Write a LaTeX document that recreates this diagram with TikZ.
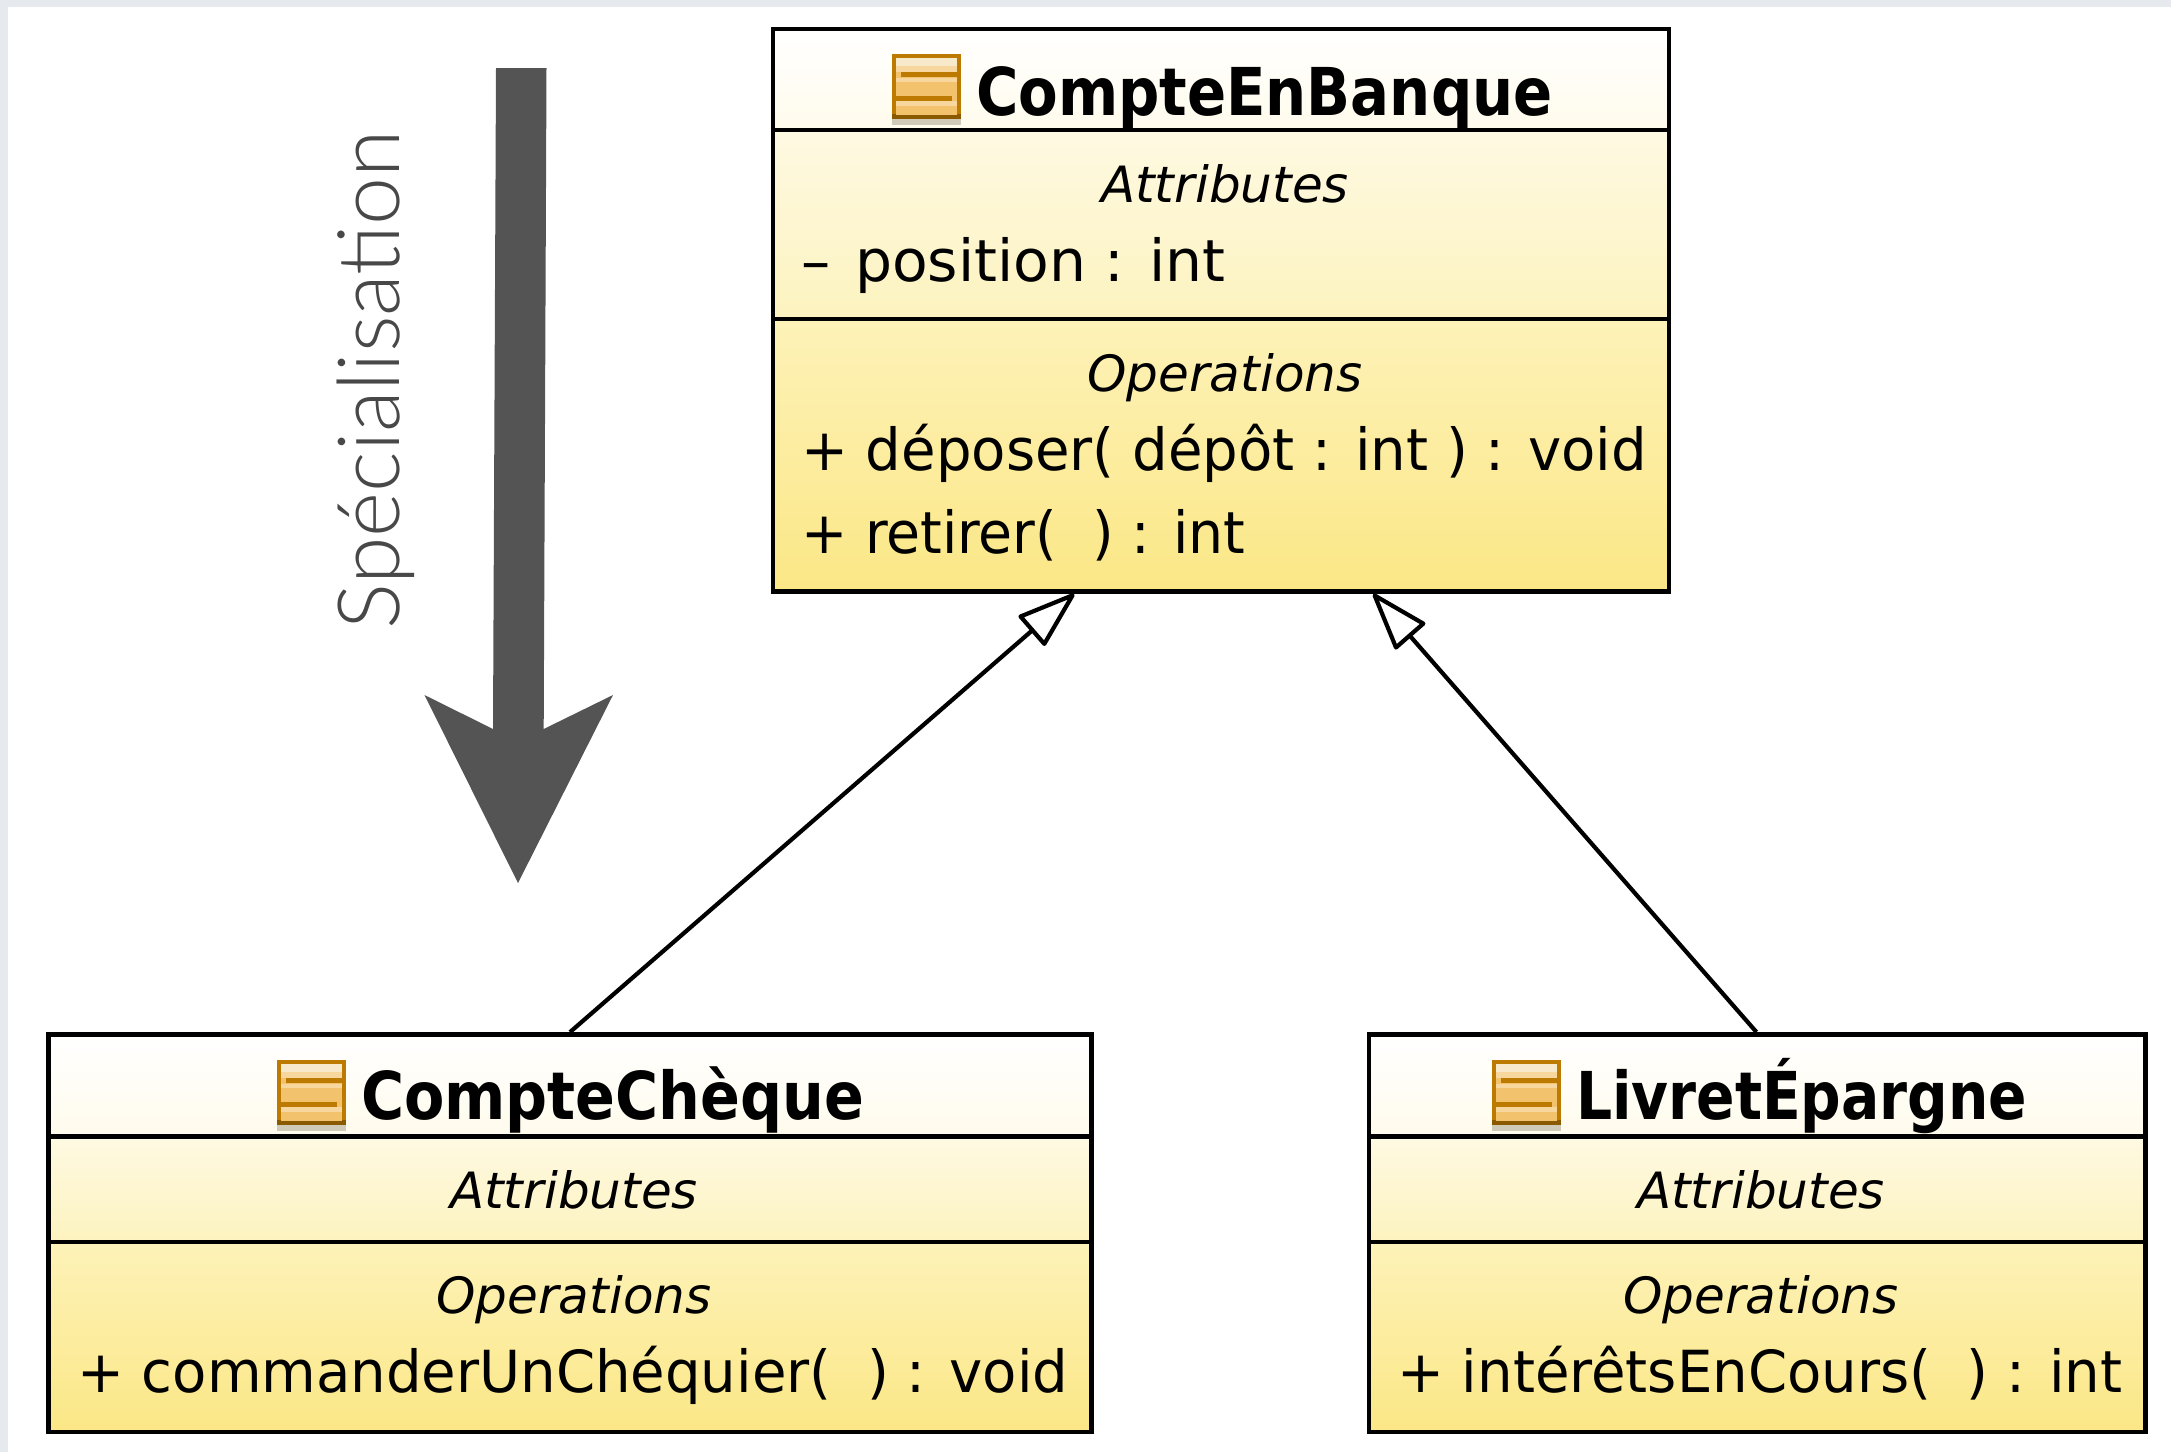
\documentclass[tikz,border=0pt]{standalone}
\usepackage{fontspec}
\usepackage{graphicx}
\usetikzlibrary{arrows.meta,calc}
\setmainfont{DejaVu Sans Condensed}
\newfontfamily\thinfont{Lato Light}
\newfontfamily\sectionfont{DejaVu Sans}
\newfontfamily\memberfont[FakeStretch=1.075]{DejaVu Sans Condensed}
\definecolor{band}{HTML}{E6E9EE}
\definecolor{arrowgrey}{HTML}{545454}
\definecolor{textgrey}{HTML}{484848}
\definecolor{iconfill}{HTML}{F2C26C}
\definecolor{icontop}{HTML}{BC7A00}
\definecolor{iconbot}{HTML}{8B5A00}
\definecolor{iconlite}{HTML}{F9E9CB}
\definecolor{iconstrip}{HTML}{F7D79E}
\definecolor{iconshadow}{HTML}{CFCBB8}
\definecolor{titletop}{HTML}{FFFFFF}
\definecolor{titlebot}{HTML}{FFFBEC}
\definecolor{attrtop}{HTML}{FEF9E2}
\definecolor{attrbot}{HTML}{FDF3BF}
\definecolor{opstop}{HTML}{FDF2B8}
\definecolor{opsbot}{HTML}{FBE786}
\tikzset{
  x=1pt,y=-1pt,
  part/.style={draw=black,line width=4.8pt,inner sep=0pt,anchor=center},
  titlepart/.style={part,top color=titletop,bottom color=titlebot},
  attrpart/.style={part,top color=attrtop,bottom color=attrbot},
  opspart/.style={part,top color=opstop,bottom color=opsbot},
  classname/.style={anchor=base west,inner sep=0pt,font=\fontsize{66}{66}\selectfont\bfseries},
  section/.style={anchor=base,inner sep=0pt,font=\fontsize{50}{50}\sectionfont\itshape},
  member/.style={anchor=base west,inner sep=0pt,font=\fontsize{58}{58}\memberfont},
  inherit/.style={draw=black,line width=4.2pt,-{Triangle[open,length=62pt,width=41pt,round]}},
  icon/.pic={
    \fill[iconshadow] (0,60) rectangle (68.5,71);
    \fill[iconbot] (0,30) rectangle (68.5,65);
    \fill[icontop] (0,0) rectangle (68.5,60);
    \fill[iconfill] (4,4) rectangle (64.5,61);
    \fill[iconlite] (4,4) rectangle (64.5,12);
    \fill[iconstrip] (4,12) rectangle (64.5,18);
    \fill[iconstrip] (4,24) rectangle (64.5,28);
    \fill[iconstrip] (4,47) rectangle (64.5,52);
    \fill[icontop] (9,18) rectangle (64.5,23);
    \fill[icontop] (4,42) rectangle (60,47);
  }
}
\begin{document}
\begin{tikzpicture}
\useasboundingbox (0,0) rectangle (2171,1452);
\fill[band] (0,0) rectangle (2171,7);
\fill[band] (0,0) rectangle (8,1452);
% Specialisation arrow
\fill[arrowgrey] (496,68) -- (546.5,68) -- (543.7,729) -- (613,695) -- (518,883) -- (424.5,695) -- (493,729) -- cycle;
\node[anchor=base,rotate=90,inner sep=0pt,text=textgrey,font=\fontsize{86}{86}\thinfont] (spec) at (399,380) {Spécialisation};
% CompteEnBanque
\node[titlepart,minimum width=896pt,minimum height=101pt] (bankT) at (1221,79.5) {};
\node[attrpart,minimum width=896pt,minimum height=189pt] (bankA) at (1221,224.5) {};
\node[opspart,minimum width=896pt,minimum height=272.5pt] (bankO) at (1221,455.25) {};
\pic at (892,54) {icon};
\node[classname] (bankN) at (976,115) {\scalebox{.972}[1]{CompteEnBanque}};
\node[section] (bankAt) at (1225,202) {Attributes};
\node[member] (bankP) at (801,281) {\scalebox{1.04}[1]{– \hspace{6pt}position : int}};
\node[section] (bankOp) at (1225,391) {Operations};
\node[member] (bankD) at (801,470) {+ déposer( dépôt : int ) : void};
\node[member] (bankR) at (801,553) {\scalebox{.985}[1]{+ retirer(~~) : int}};
% CompteCheque
\node[titlepart,minimum width=1043pt,minimum height=102pt] (chkT) at (570,1085.5) {};
\node[attrpart,minimum width=1043pt,minimum height=105pt] (chkA) at (570,1189.5) {};
\node[opspart,minimum width=1043pt,minimum height=190pt] (chkO) at (570,1337) {};
\pic at (277,1060) {icon};
\node[classname] (chkN) at (361,1119) {\scalebox{.989}[1]{CompteChèque}};
\node[section] (chkAt) at (574,1208) {Attributes};
\node[section] (chkOp) at (574,1313) {Operations};
\node[member] (chkC) at (77,1392) {+ commanderUnChéquier(~~) : void};
% LivretEpargne
\node[titlepart,minimum width=776.5pt,minimum height=102pt] (livT) at (1757.25,1085.5) {};
\node[attrpart,minimum width=776.5pt,minimum height=105pt] (livA) at (1757.25,1189.5) {};
\node[opspart,minimum width=776.5pt,minimum height=190pt] (livO) at (1757.25,1337) {};
\pic at (1492,1060) {icon};
\node[classname] (livN) at (1576,1119) {\scalebox{.955}[1]{LivretÉpargne}};
\node[section] (livAt) at (1761,1208) {Attributes};
\node[section] (livOp) at (1761,1313) {Operations};
\node[member] (livI) at (1397,1392) {+ intérêtsEnCours(~~) : int};
% Generalisations
\draw[inherit] ($(chkT.north west)!0.5!(chkT.north east)$) -- ($(bankO.south west)!0.337!(bankO.south east)$);
\draw[inherit] ($(livT.north west)!0.499!(livT.north east)$) -- ($(bankO.south west)!0.669!(bankO.south east)$);
\end{tikzpicture}
\end{document}
